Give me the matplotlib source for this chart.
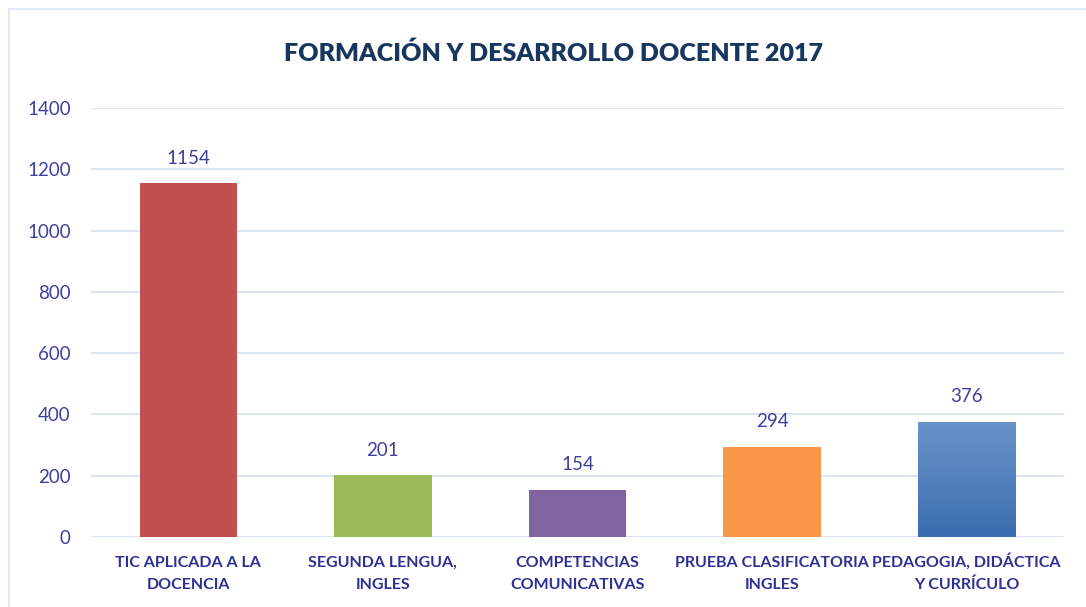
import numpy as np
import matplotlib
matplotlib.use("Agg")
import matplotlib.pyplot as plt
from matplotlib.lines import Line2D
from matplotlib.colors import LinearSegmentedColormap
from matplotlib.transforms import blended_transform_factory, offset_copy

categories = ["TIC APLICADA A LA\nDOCENCIA", "SEGUNDA LENGUA,\nINGLES",
              "COMPETENCIAS\nCOMUNICATIVAS", "PRUEBA CLASIFICATORIA\nINGLES",
              "PEDAGOGIA, DIDÁCTICA\nY CURRÍCULO"]
values = [1154, 201, 154, 294, 376]
bar_colors = ["#c0504d", "#9bbb59", "#8064a2", "#f79646", "#4f81bd"]
yticks = [0, 200, 400, 600, 800, 1000, 1200, 1400]

plt.rcParams['font.family'] = ['Lato', 'DejaVu Sans']

fig = plt.figure(figsize=(10.86, 6.07), dpi=100)
ax = fig.add_axes([91/1086, 1-537/607, (1064-91)/1086, (537-108)/607])

x = np.arange(len(values))
bars = ax.bar(x, values, width=0.5, color=bar_colors, zorder=3)

# gradient on last bar
last = bars[-1]
last.set_facecolor("none")
bx, by = last.get_x(), last.get_y()
bw, bh = last.get_width(), last.get_height()
grad = np.linspace(0, 1, 256).reshape(-1, 1)
cmap = LinearSegmentedColormap.from_list("g", ["#3a6db0", "#6a94c8"])
im = ax.imshow(grad, cmap=cmap, origin="lower", aspect="auto",
               extent=[bx, bx + bw, by, by + bh], zorder=3)
im.set_clip_path(last)

ax.set_xlim(-0.5, len(values) - 0.5)
ax.set_ylim(0, 1400)
ax.set_yticks(yticks)
ax.yaxis.grid(True, color="#dce6f2", linewidth=1.5, zorder=0)
for s in ax.spines.values():
    s.set_visible(False)
ax.tick_params(length=0)
ax.tick_params(axis="y", labelsize=13.5, labelcolor="#3f3f9f", pad=14.5)
ax.set_xticks([])

# category labels, one text per line on fixed baselines
blend = blended_transform_factory(ax.transData, ax.transAxes)
for xi, lab in zip(x, categories):
    for k, line in enumerate(lab.split("\n")):
        tr = offset_copy(blend, fig=fig, x=0, y=-(30 + 22 * k), units="dots")
        ax.text(xi, 0, line, transform=tr, ha="center", va="baseline",
                fontsize=11.5, fontweight="bold", color="#2e3192")

for b, v in zip(bars, values):
    ax.annotate(str(v), (b.get_x() + b.get_width()/2, v), xytext=(0, 12),
                textcoords="offset points", ha="center", va="bottom",
                fontsize=13.5, color="#3f3f9f")

fig.text(554/1086, 1-53/607, "FORMACIÓN Y DESARROLLO DOCENTE 2017",
         ha="center", va="center", fontsize=18, fontweight="heavy", color="#17375e")

# chart frame (left and top edges visible)
fig.add_artist(Line2D([9/1086, 9/1086], [0, 1-9/607], transform=fig.transFigure,
                      color="#dce6f2", linewidth=1.2))
fig.add_artist(Line2D([9/1086, 1], [1-9/607, 1-9/607], transform=fig.transFigure,
                      color="#dce6f2", linewidth=1.2))

fig.savefig("out.png", dpi=100)
